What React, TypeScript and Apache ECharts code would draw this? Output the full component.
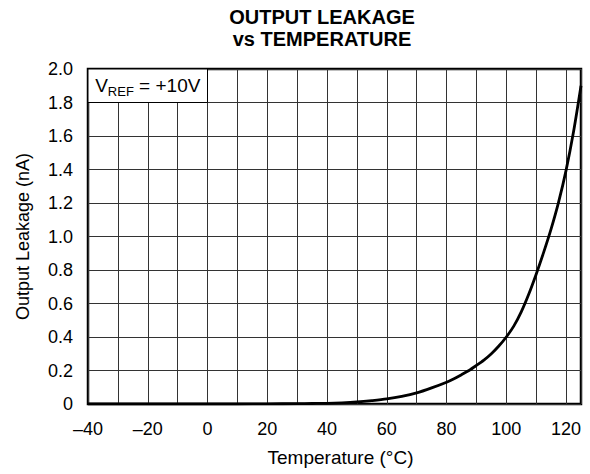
import React, { useEffect, useRef } from "react";
import * as echarts from "echarts";

const temps = [-40, -30, -20, -10, 0, 10, 20, 30, 35, 40, 45, 50, 55, 60, 65, 70, 75, 80, 82.5, 85, 87.5, 90, 92.5, 95, 97.5, 100, 102.5, 105, 107.5, 110, 112.5, 115, 117.5, 120, 122.5, 125];
const leakage = [0, 0, 0, 0, 0, 0, 0.001, 0.002, 0.003, 0.004, 0.007, 0.012, 0.02, 0.03, 0.045, 0.066, 0.096, 0.13, 0.151, 0.175, 0.2, 0.23, 0.262, 0.3, 0.346, 0.4, 0.465, 0.55, 0.655, 0.775, 0.905, 1.045, 1.205, 1.395, 1.625, 1.9];
const xTicks = [-40, -20, 0, 20, 40, 60, 80, 100, 120];
const yTicks = [0, 0.2, 0.4, 0.6, 0.8, 1.0, 1.2, 1.4, 1.6, 1.8, 2.0];
const titleLines = ["OUTPUT LEAKAGE", "vs TEMPERATURE"];
const FONT = "'Liberation Sans', Arial, Helvetica, sans-serif";

export default function App() {
  const ref = useRef<HTMLDivElement>(null);
  useEffect(() => {
    if (!ref.current) return;
    const chart = echarts.init(ref.current, undefined, { renderer: "svg" });
    const data = temps.map((t, i) => [t, leakage[i]]);
    chart.setOption({
      animation: false,
      backgroundColor: "#fff",
      textStyle: { fontFamily: FONT },
      graphic: [
        {
          type: "text",
          x: 322,
          y: 6,
          style: {
            text: titleLines.join("\n"),
            textAlign: "center",
            font: `bold 20px ${FONT}`,
            lineHeight: 22,
            fill: "#000",
          },
        },
      ],
      grid: {
        left: 88,
        right: 9,
        top: 69,
        bottom: 70,
        show: true,
        borderColor: "#000",
        borderWidth: 2.5,
        backgroundColor: "#fff",
      },
      xAxis: {
        type: "value",
        min: -40,
        max: 125,
        interval: 10,
        name: "Temperature (°C)",
        nameLocation: "middle",
        nameGap: 44,
        nameTextStyle: { fontSize: 19, color: "#000", fontFamily: FONT, padding: [0, 0, 0, 12] },
        axisLine: { show: false },
        axisTick: { show: false },
        splitLine: { show: true, lineStyle: { color: "#333", width: 1 } },
        axisLabel: {
          fontSize: 18,
          color: "#000",
          margin: 16,
          showMaxLabel: false,
          fontFamily: FONT,
          formatter: (v: number) =>
            xTicks.includes(v) ? (v < 0 ? "\u2013" + Math.abs(v) : String(v)) : "",
        },
      },
      yAxis: {
        type: "value",
        min: 0,
        max: 2,
        interval: 0.2,
        name: "Output Leakage (nA)",
        nameLocation: "middle",
        nameGap: 56,
        nameTextStyle: { fontSize: 18, color: "#000", fontFamily: FONT },
        axisLine: { show: false },
        axisTick: { show: false },
        splitLine: { show: true, lineStyle: { color: "#333", width: 1 } },
        axisLabel: {
          fontSize: 18,
          color: "#000",
          margin: 15,
          fontFamily: FONT,
          formatter: (v: number) => {
            const m = yTicks.find((t) => Math.abs(t - v) < 1e-6);
            if (m === undefined) return "";
            return m === 0 ? "0" : m.toFixed(1);
          },
        },
      },
      series: [
        {
          type: "line",
          data,
          smooth: 0.3,
          showSymbol: false,
          lineStyle: { color: "#000", width: 2.8 },
          z: 5,
          markArea: {
            silent: true,
            itemStyle: { color: "#fff", borderColor: "#000", borderWidth: 1 },
            label: {
              show: true,
              position: "inside",
              color: "#000",
              fontFamily: FONT,
              formatter: "{a|V}{s|REF}{a| = +10V}",
              rich: {
                a: { fontSize: 19, color: "#000", fontFamily: FONT },
                s: { fontSize: 13, color: "#000", fontFamily: FONT, padding: [11, 0, 0, 0] },
              },
            },
            data: [[{ coord: [-40, 1.8] }, { coord: [0, 2.0] }]],
          },
        },
      ],
    });
    return () => chart.dispose();
  }, []);
  return (
    <div
      ref={ref}
      style={{ position: "fixed", left: 0, top: 0, width: 590, height: 474 }}
    />
  );
}
